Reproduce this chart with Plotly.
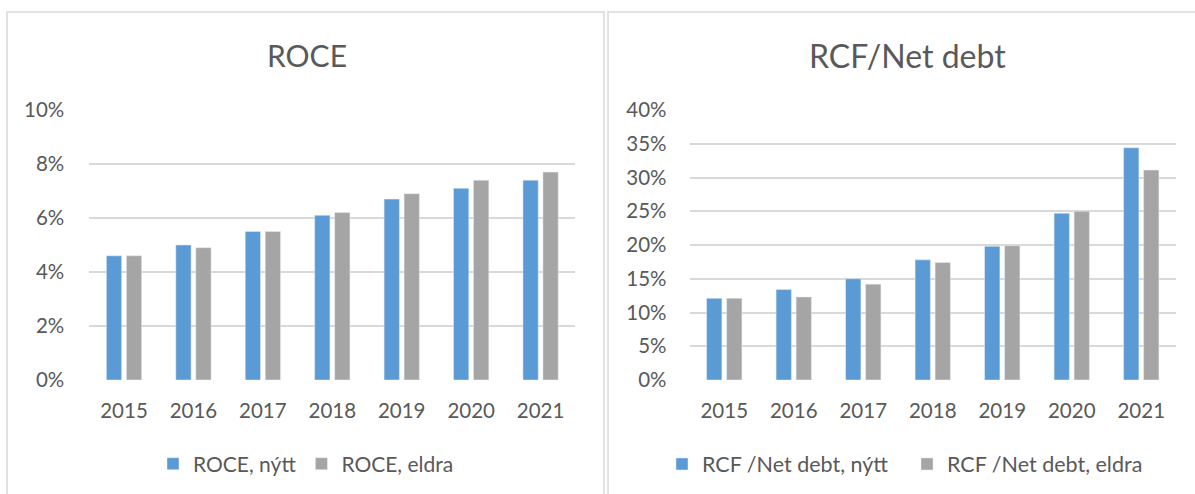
import plotly.graph_objects as go

W, H = 1195, 494

years = ["2015", "2016", "2017", "2018", "2019", "2020", "2021"]
roce_nytt = [4.6, 5.0, 5.5, 6.1, 6.7, 7.1, 7.4]
roce_eldra = [4.6, 4.9, 5.5, 6.2, 6.9, 7.4, 7.7]
rcf_nytt = [12.1, 13.4, 15.0, 17.8, 19.8, 24.7, 34.4]
rcf_eldra = [12.1, 12.3, 14.2, 17.4, 19.9, 25.0, 31.1]

names_left = ["ROCE, nýtt", "ROCE, eldra"]
names_right = ["RCF /Net debt, nýtt", "RCF /Net debt, eldra"]
titles = ["ROCE", "RCF/Net debt"]

BLUE = "#5B9BD5"
GRAY = "#A5A5A5"
TXT = "#595959"
GRID = "#D9D9D9"
FONT = "Lato"

def px(x):
    return x / W

def py(y):
    return 1 - y / H

fig = go.Figure()
fig.add_trace(go.Bar(x=years, y=roce_nytt, name=names_left[0], marker_color=BLUE,
                     xaxis="x", yaxis="y", legend="legend"))
fig.add_trace(go.Bar(x=years, y=roce_eldra, name=names_left[1], marker_color=GRAY,
                     xaxis="x", yaxis="y", legend="legend"))
fig.add_trace(go.Bar(x=years, y=rcf_nytt, name=names_right[0], marker_color=BLUE,
                     xaxis="x2", yaxis="y2", legend="legend2"))
fig.add_trace(go.Bar(x=years, y=rcf_eldra, name=names_right[1], marker_color=GRAY,
                     xaxis="x2", yaxis="y2", legend="legend2"))

ydom = [py(380), py(110)]
xcommon = dict(type="category", showgrid=False, zeroline=False, showline=False,
               ticks="", tickfont=dict(family=FONT, size=20.5, color=TXT),
               ticklabelstandoff=16, fixedrange=True, automargin=False)
ycommon = dict(showgrid=True, gridcolor=GRID, gridwidth=1.5, zeroline=False,
               showline=False, ticks="", ticksuffix="%", automargin=False,
               tickfont=dict(family=FONT, size=20.5, color=TXT), fixedrange=True)

fig.update_layout(
    width=W, height=H,
    margin=dict(l=0, r=0, t=0, b=0, pad=0, autoexpand=False),
    paper_bgcolor="white", plot_bgcolor="white",
    barmode="group", bargap=0.424, bargroupgap=0.235,
    font=dict(family=FONT, color=TXT),
    xaxis=dict(domain=[px(89.3), px(575.3)], anchor="y", **xcommon),
    yaxis=dict(domain=ydom, anchor="x", range=[0, 10], dtick=2,
               ticklabelstandoff=24, **ycommon),
    xaxis2=dict(domain=[px(689.5), px(1176)], anchor="y2", **xcommon),
    yaxis2=dict(domain=ydom, anchor="x2", range=[0, 40], dtick=5,
                ticklabelstandoff=22, **ycommon),
    legend=dict(orientation="h", x=px(153), y=py(464), xanchor="left", yanchor="middle",
                font=dict(family=FONT, size=21, color=TXT), bgcolor="rgba(0,0,0,0)"),
    legend2=dict(orientation="h", x=px(662), y=py(464), xanchor="left", yanchor="middle",
                 entrywidth=200,
                 font=dict(family=FONT, size=21.5, color=TXT), bgcolor="rgba(0,0,0,0)"),
    showlegend=True,
)

for cx, t, s in zip([306.5, 907.5], titles, [30, 32]):
    fig.add_annotation(text=t, x=px(cx), y=py(55), xref="paper", yref="paper",
                       xanchor="center", yanchor="middle", showarrow=False,
                       font=dict(family=FONT, size=s, color=TXT))

# panel borders
fig.add_shape(type="rect", xref="paper", yref="paper", x0=px(7), x1=px(604),
              y0=-0.1, y1=py(12), line=dict(color=GRID, width=1.5), layer="below")
fig.add_shape(type="rect", xref="paper", yref="paper", x0=px(608), x1=1.1,
              y0=-0.1, y1=py(12), line=dict(color=GRID, width=1.5), layer="below")

fig.write_html("out.html")
